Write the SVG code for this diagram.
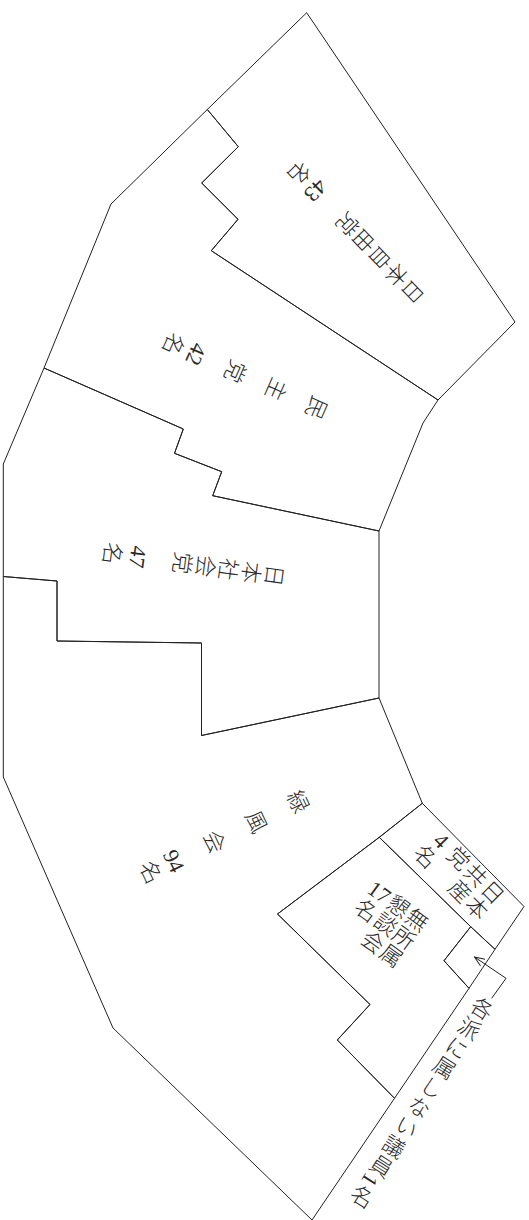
<svg xmlns="http://www.w3.org/2000/svg" width="529" height="1220" viewBox="0 0 529 1220">
<defs>
<style>
.ln{fill:none;stroke:#222;stroke-width:1;stroke-linejoin:miter}
.v{font-family:"Liberation Serif","Noto Sans CJK JP",serif;font-size:22px;writing-mode:vertical-rl;fill:#2a2a2a;font-weight:300}
.d{font-family:"Liberation Serif",serif;font-size:22px;text-anchor:middle;dominant-baseline:central;fill:#2a2a2a}
</style>
<marker id="ah" markerUnits="userSpaceOnUse" markerWidth="12" markerHeight="10" refX="11" refY="4.5" orient="auto">
<path d="M1,0.5 L11,4.5 L1,8.5" fill="none" stroke="#222" stroke-width="1"/>
</marker>
</defs>
<rect width="529" height="1220" fill="#fff"/>

<g id="jiyuto">
<polygon class="ln" points="306.7,12.7 515,322 438,400 211.3,250.7 238,219.3 201.7,183 238.3,146.7 207.3,109.5"/>
<g transform="translate(410,289) rotate(136.2)">
<text class="v" x="-2.5" y="-15" letter-spacing="1.4">日本自由党</text>
<text class="d" x="0" y="136.4">43</text>
<text class="v" x="-2.5" y="148.8">名</text>
</g>
</g>

<g id="minshuto">
<polygon class="ln" points="207.3,109.5 238.3,146.7 201.7,183 238,219.3 211.3,250.7 438,400 423,423 379,531 212.7,495.7 221.7,471.7 174.5,453.3 183.3,429 44,368 111,204"/>
<g transform="translate(313.3,406) rotate(113.8)">
<text class="v" x="-2.5" y="-15" letter-spacing="0.2">民　主　党</text>
<text class="d" x="0" y="128.2">42</text>
<text class="v" x="-2.5" y="141.4">名</text>
</g>
</g>

<g id="shakaito">
<polygon class="ln" points="44,368 183.3,429 174.5,453.3 221.7,471.7 212.7,495.7 379,531 379,698 201.5,735.5 201.5,643 57,641 57,581 3.3,576.5 3.3,464"/>
<g transform="translate(270.7,575) rotate(97.7)">
<text class="v" x="-2.5" y="-15" letter-spacing="1.2">日本社会党</text>
<text class="d" x="0" y="134.2">47</text>
<text class="v" x="-2.5" y="148.4">名</text>
</g>
</g>

<g id="ryokufukai">
<polygon class="ln" points="3.3,576.5 57,581 57,641 201.5,643 201.5,735.5 379,698 422.3,803.3 379.3,837.3 277.5,914 370,1004.5 337.3,1040 394.5,1098.3 312,1220 113,1028 3.3,777"/>
<g transform="translate(295,803.3) rotate(64.5)">
<text class="v" x="-2.5" y="-15" letter-spacing="1.2">緑　風　会</text>
<text class="d" x="0" y="134.2">94</text>
<text class="v" x="-2.5" y="148.4">名</text>
</g>
</g>

<g id="kyosanto">
<polygon class="ln" points="422.3,803.3 524,906.5 495,949.3 470.7,926.7 379.3,837.3"/>
<g transform="translate(490,895) rotate(45)">
<text class="v" x="-2.5" y="-15">日本</text>
<text class="v" x="-26.5" y="-15">共産</text>
<text class="v" x="-50.5" y="-15">党</text>
<text class="d" x="-73" y="-4">4</text>
<text class="v" x="-75.5" y="7">名</text>
</g>
</g>

<g id="mushozoku">
<polygon class="ln" points="379.3,837.3 470.7,926.7 444,960.7 469,988.3 394.5,1098.3 337.3,1040 370,1004.5 277.5,914"/>
<g transform="translate(415,923) rotate(36)">
<text class="v" x="-2.5" y="-15">無所属</text>
<text class="v" x="-25.5" y="-15">懇談会</text>
<text class="d" x="-47" y="-4">17</text>
<text class="v" x="-49.5" y="7">名</text>
</g>
</g>

<g id="hazoku">
<polygon class="ln" points="470.7,926.7 495,949.3 469,988.3 444,960.7"/>
<g transform="translate(480,1011.7) rotate(32.5)">
<text class="v" x="-2.5" y="-15" letter-spacing="1.4">各派に属しない議員1名</text>
</g>
</g>

<g id="connectors">
<polyline class="ln" points="491.7,998.3 506,978.3 474.5,957" marker-end="url(#ah)"/>
</g>
</svg>
